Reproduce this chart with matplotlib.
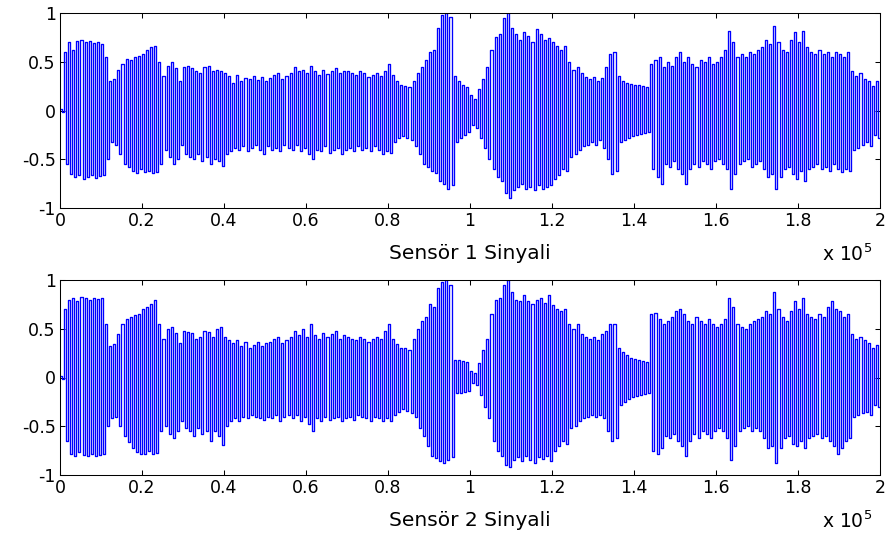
import numpy as np
import matplotlib
matplotlib.use("Agg")
import matplotlib.pyplot as plt

plt.rcParams["font.family"] = ["DejaVu Sans"]
plt.rcParams["axes.unicode_minus"] = False

# Peak envelope of each 1000-sample block (200 blocks, 0 .. 200000 samples)
s1_upper = [
    0.02, 0.60, 0.70, 0.62, 0.71, 0.72, 0.70, 0.71, 0.69, 0.70, 0.68, 0.55, 0.30, 0.32, 0.42, 0.48, 0.53, 0.52, 0.55, 0.56,
    0.58, 0.62, 0.65, 0.66, 0.50, 0.35, 0.46, 0.50, 0.44, 0.30, 0.45, 0.46, 0.44, 0.40, 0.38, 0.45, 0.46, 0.40, 0.42, 0.40,
    0.38, 0.35, 0.28, 0.36, 0.30, 0.33, 0.32, 0.35, 0.31, 0.34, 0.30, 0.33, 0.36, 0.38, 0.32, 0.35, 0.38, 0.45, 0.40, 0.42,
    0.38, 0.46, 0.40, 0.36, 0.42, 0.37, 0.40, 0.44, 0.38, 0.40, 0.41, 0.38, 0.36, 0.40, 0.38, 0.34, 0.36, 0.38, 0.35, 0.40,
    0.48, 0.36, 0.30, 0.26, 0.25, 0.24, 0.30, 0.38, 0.45, 0.52, 0.60, 0.62, 0.85, 0.98, 1.00, 0.96, 0.35, 0.30, 0.26, 0.24,
    0.16, 0.12, 0.22, 0.32, 0.45, 0.62, 0.75, 0.78, 0.95, 1.00, 0.85, 0.78, 0.72, 0.80, 0.76, 0.70, 0.84, 0.78, 0.72, 0.74,
    0.70, 0.66, 0.62, 0.66, 0.50, 0.42, 0.45, 0.38, 0.34, 0.32, 0.34, 0.30, 0.33, 0.45, 0.58, 0.60, 0.35, 0.30, 0.28, 0.27,
    0.26, 0.26, 0.25, 0.24, 0.48, 0.52, 0.55, 0.45, 0.50, 0.46, 0.55, 0.60, 0.50, 0.55, 0.48, 0.45, 0.52, 0.50, 0.55, 0.48,
    0.50, 0.55, 0.62, 0.82, 0.70, 0.55, 0.58, 0.55, 0.60, 0.58, 0.62, 0.65, 0.72, 0.68, 0.87, 0.70, 0.62, 0.60, 0.72, 0.80,
    0.70, 0.82, 0.65, 0.60, 0.58, 0.62, 0.58, 0.60, 0.55, 0.60, 0.58, 0.55, 0.60, 0.40, 0.35, 0.38, 0.32, 0.30, 0.25, 0.30,
]
s1_lower = [
    -0.02, -0.55, -0.65, -0.68, -0.66, -0.70, -0.68, -0.66, -0.69, -0.67, -0.66, -0.50, -0.32, -0.35, -0.45, -0.55, -0.58, -0.62, -0.64, -0.60,
    -0.63, -0.62, -0.64, -0.63, -0.55, -0.40, -0.48, -0.55, -0.50, -0.35, -0.45, -0.48, -0.50, -0.45, -0.52, -0.48, -0.55, -0.50, -0.52, -0.57,
    -0.45, -0.42, -0.38, -0.40, -0.36, -0.42, -0.38, -0.35, -0.40, -0.45, -0.36, -0.40, -0.38, -0.42, -0.35, -0.38, -0.40, -0.35, -0.42, -0.38,
    -0.45, -0.50, -0.40, -0.42, -0.36, -0.44, -0.40, -0.38, -0.45, -0.40, -0.38, -0.42, -0.36, -0.40, -0.38, -0.42, -0.36, -0.40, -0.45, -0.42,
    -0.44, -0.32, -0.28, -0.26, -0.28, -0.30, -0.36, -0.45, -0.55, -0.58, -0.62, -0.64, -0.72, -0.75, -0.80, -0.76, -0.32, -0.28, -0.25, -0.22,
    -0.15, -0.18, -0.28, -0.38, -0.50, -0.60, -0.68, -0.72, -0.85, -0.90, -0.82, -0.78, -0.75, -0.80, -0.78, -0.82, -0.76, -0.80, -0.78, -0.76,
    -0.70, -0.66, -0.60, -0.62, -0.48, -0.45, -0.40, -0.36, -0.35, -0.32, -0.35, -0.30, -0.38, -0.50, -0.65, -0.62, -0.32, -0.30, -0.28, -0.26,
    -0.25, -0.24, -0.23, -0.22, -0.60, -0.68, -0.75, -0.55, -0.58, -0.52, -0.60, -0.65, -0.75, -0.60, -0.55, -0.58, -0.52, -0.55, -0.60, -0.52,
    -0.50, -0.55, -0.60, -0.80, -0.65, -0.55, -0.52, -0.50, -0.58, -0.55, -0.52, -0.60, -0.68, -0.65, -0.80, -0.68, -0.60, -0.58, -0.65, -0.70,
    -0.62, -0.72, -0.60, -0.58, -0.55, -0.60, -0.58, -0.62, -0.55, -0.60, -0.63, -0.60, -0.62, -0.40, -0.38, -0.35, -0.32, -0.36, -0.25, -0.28,
]
s2_upper = [
    0.02, 0.70, 0.80, 0.82, 0.78, 0.83, 0.82, 0.80, 0.82, 0.81, 0.82, 0.55, 0.32, 0.34, 0.45, 0.55, 0.60, 0.62, 0.64, 0.65,
    0.70, 0.72, 0.75, 0.80, 0.55, 0.40, 0.50, 0.52, 0.46, 0.35, 0.48, 0.47, 0.46, 0.40, 0.42, 0.48, 0.47, 0.42, 0.50, 0.52,
    0.42, 0.38, 0.35, 0.38, 0.32, 0.36, 0.30, 0.33, 0.36, 0.32, 0.35, 0.36, 0.40, 0.42, 0.35, 0.38, 0.42, 0.48, 0.44, 0.50,
    0.42, 0.55, 0.44, 0.40, 0.46, 0.42, 0.45, 0.48, 0.40, 0.44, 0.42, 0.40, 0.38, 0.42, 0.40, 0.36, 0.40, 0.42, 0.40, 0.48,
    0.55, 0.40, 0.34, 0.30, 0.30, 0.28, 0.40, 0.50, 0.58, 0.62, 0.75, 0.72, 0.92, 0.98, 1.00, 0.95, 0.18, 0.18, 0.17, 0.16,
    0.07, 0.05, 0.15, 0.28, 0.40, 0.65, 0.80, 0.82, 0.95, 1.00, 0.88, 0.80, 0.78, 0.85, 0.78, 0.75, 0.80, 0.82, 0.76, 0.85,
    0.74, 0.70, 0.68, 0.70, 0.55, 0.50, 0.55, 0.45, 0.42, 0.40, 0.42, 0.38, 0.45, 0.48, 0.55, 0.55, 0.30, 0.26, 0.23, 0.20,
    0.19, 0.18, 0.17, 0.16, 0.65, 0.66, 0.60, 0.55, 0.58, 0.62, 0.68, 0.70, 0.65, 0.58, 0.55, 0.62, 0.58, 0.55, 0.60, 0.55,
    0.52, 0.55, 0.60, 0.82, 0.72, 0.55, 0.52, 0.50, 0.55, 0.58, 0.60, 0.62, 0.68, 0.65, 0.88, 0.70, 0.62, 0.58, 0.68, 0.78,
    0.70, 0.82, 0.65, 0.62, 0.60, 0.65, 0.62, 0.72, 0.78, 0.70, 0.68, 0.62, 0.65, 0.45, 0.40, 0.42, 0.38, 0.35, 0.30, 0.33,
]
s2_lower = [
    -0.02, -0.65, -0.78, -0.80, -0.76, -0.79, -0.80, -0.78, -0.80, -0.79, -0.78, -0.50, -0.42, -0.40, -0.50, -0.60, -0.66, -0.72, -0.76, -0.78,
    -0.78, -0.75, -0.78, -0.77, -0.55, -0.50, -0.58, -0.62, -0.55, -0.45, -0.52, -0.55, -0.60, -0.52, -0.58, -0.55, -0.65, -0.55, -0.60, -0.69,
    -0.50, -0.45, -0.42, -0.45, -0.40, -0.42, -0.38, -0.40, -0.42, -0.44, -0.40, -0.42, -0.38, -0.45, -0.40, -0.38, -0.42, -0.38, -0.45, -0.40,
    -0.48, -0.55, -0.42, -0.45, -0.40, -0.44, -0.42, -0.40, -0.45, -0.42, -0.40, -0.44, -0.38, -0.40, -0.42, -0.45, -0.40, -0.42, -0.45, -0.42,
    -0.45, -0.38, -0.35, -0.32, -0.34, -0.36, -0.40, -0.52, -0.60, -0.70, -0.80, -0.83, -0.86, -0.88, -0.85, -0.82, -0.16, -0.16, -0.15, -0.14,
    -0.06, -0.08, -0.18, -0.30, -0.42, -0.65, -0.75, -0.80, -0.90, -0.92, -0.85, -0.82, -0.86, -0.80, -0.85, -0.88, -0.82, -0.84, -0.80, -0.86,
    -0.75, -0.70, -0.65, -0.68, -0.52, -0.50, -0.45, -0.42, -0.40, -0.38, -0.40, -0.38, -0.42, -0.55, -0.65, -0.62, -0.28, -0.25, -0.22, -0.20,
    -0.19, -0.18, -0.17, -0.16, -0.75, -0.78, -0.72, -0.60, -0.62, -0.58, -0.65, -0.70, -0.80, -0.65, -0.58, -0.62, -0.55, -0.58, -0.62, -0.55,
    -0.52, -0.55, -0.62, -0.85, -0.70, -0.55, -0.52, -0.50, -0.55, -0.52, -0.55, -0.62, -0.72, -0.70, -0.88, -0.72, -0.62, -0.60, -0.68, -0.70,
    -0.65, -0.72, -0.62, -0.60, -0.58, -0.62, -0.60, -0.65, -0.70, -0.78, -0.72, -0.65, -0.62, -0.40, -0.38, -0.36, -0.35, -0.38, -0.28, -0.30,
]

block = 1000
x_ticks = [0, 20000, 40000, 60000, 80000, 100000, 120000, 140000, 160000, 180000, 200000]
x_ticklabels = ["0", "0.2", "0.4", "0.6", "0.8", "1", "1.2", "1.4", "1.6", "1.8", "2"]
y_ticks = [-1, -0.5, 0, 0.5, 1]
y_ticklabels = ["-1", "-0.5", "0", "0.5", "1"]
titles = ["Sensör 1 Sinyali", "Sensör 2 Sinyali"]


def oscillation(upper, lower):
    """Hold the positive peak for the first half of each block, the negative peak for the second."""
    up = np.asarray(upper)
    lo = np.asarray(lower)
    start = np.arange(len(up)) * block
    x = np.empty(2 * len(up) + 1)
    y = np.empty(2 * len(up) + 1)
    x[0:-1:2] = start
    x[1:-1:2] = start + block // 2
    x[-1] = len(up) * block
    y[0:-1:2] = up
    y[1:-1:2] = lo
    y[-1] = lo[-1]
    return x, y


fig = plt.figure(figsize=(8.87, 5.34), dpi=100)
axes_rects = [
    [60 / 887, 1 - 208 / 534, 820 / 887, 195 / 534],
    [60 / 887, 1 - 475 / 534, 820 / 887, 195 / 534],
]
series = [(s1_upper, s1_lower), (s2_upper, s2_lower)]

for rect, (up, lo), title in zip(axes_rects, series, titles):
    ax = fig.add_axes(rect)
    x, y = oscillation(up, lo)
    ax.plot(x, y, color=(0, 0, 1), linewidth=0.95, drawstyle="steps-post",
            antialiased=True)
    ax.set_xlim(0, 200000)
    ax.set_ylim(-1, 1)
    ax.set_xticks(x_ticks)
    ax.set_xticklabels(x_ticklabels)
    ax.set_yticks(y_ticks)
    ax.set_yticklabels(y_ticklabels)
    ax.tick_params(direction="in", length=3.5, width=0.75, top=True, right=True,
                   labelsize=12.5, pad=3, colors="black")
    for sp in ax.spines.values():
        sp.set_linewidth(0.75)
        sp.set_color("black")
    ax.set_xlabel(title, fontsize=14.5, labelpad=10)
    ax.text(0.99, -0.27, r"x 10$^{5}$", transform=ax.transAxes, ha="right",
            va="baseline", fontsize=13.5)

fig.savefig("out.png", dpi=100, facecolor="white")
